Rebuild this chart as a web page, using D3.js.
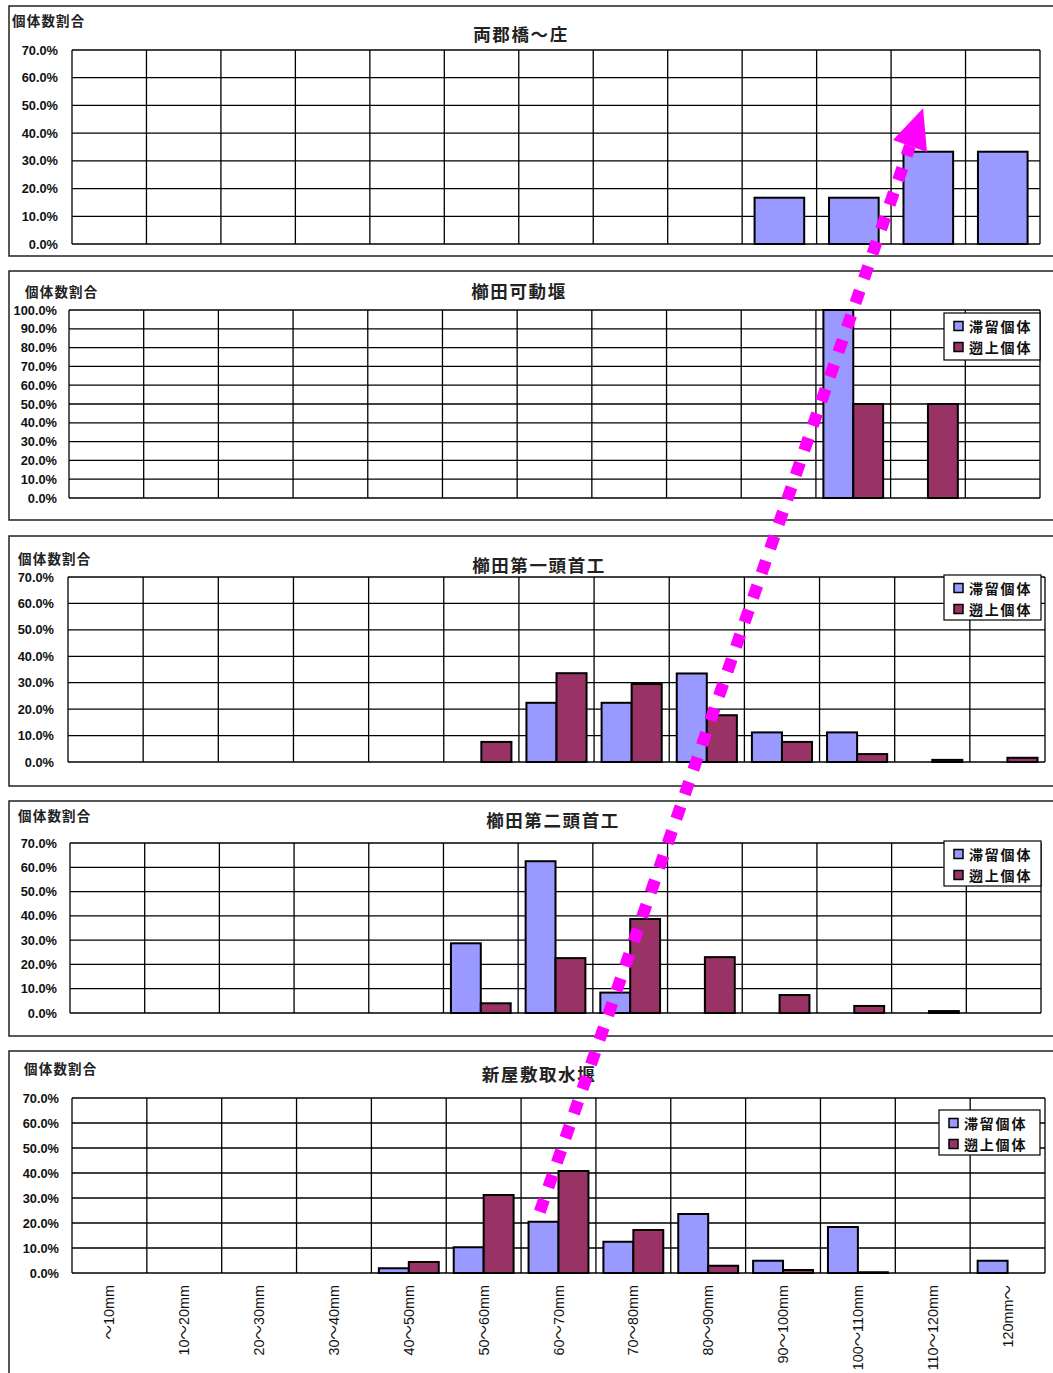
<!DOCTYPE html>
<html><head><meta charset="utf-8">
<script src="https://cdn.jsdelivr.net/npm/d3@7"></script>
<style>
body{margin:0;background:#fff;}
svg{display:block;}
</style></head>
<body>
<svg id="chart" width="1053" height="1373"></svg>
<script>
// ---------- data ----------
const categories = ["～10mm","10～20mm","20～30mm","30～40mm","40～50mm","50～60mm","60～70mm","70～80mm","80～90mm","90～100mm","100～110mm","110～120mm","120mm～"];
const seriesNames = ["滞留個体","遡上個体"];
const yTitle = "個体数割合";
const panelTitles = ["両郡橋～庄","櫛田可動堰","櫛田第一頭首工","櫛田第二頭首工","新屋敷取水堰"];
const yMaxes = [70,100,70,70,70];

const p1Stay = [0,0,0,0,0,0,0,0,0,16.7,16.7,33.3,33.3];
const p2Stay = [0,0,0,0,0,0,0,0,0,0,100,0,0];
const p2Up   = [0,0,0,0,0,0,0,0,0,0,50,50,0];
const p3Stay = [0,0,0,0,0,0,22.4,22.4,33.5,11.2,11.2,0,0];
const p3Up   = [0,0,0,0,0,7.6,33.6,29.5,17.7,7.6,3.0,0.8,1.6];
const p4Stay = [0,0,0,0,0,28.7,62.5,8.4,0,0,0,0,0];
const p4Up   = [0,0,0,0,0,4.0,22.6,38.7,23.0,7.4,2.9,0.8,0];
const p5Stay = [0,0,0,0,1.9,10.3,20.5,12.5,23.6,4.9,18.4,0,4.9];
const p5Up   = [0,0,0,0,4.4,31.2,40.8,17.2,2.9,1.2,0.3,0,0];

const panelSeries = [
  [p1Stay],
  [p2Stay, p2Up],
  [p3Stay, p3Up],
  [p4Stay, p4Up],
  [p5Stay, p5Up]
];

// ---------- layout / styles ----------
const colors = ["#9999FF","#993366"];
const layout = [
  {box:[9,6,1060,250],   plot:[72,1040,50,244],   title:[521,33],  yt:[12,20],  tickR:58, legend:null},
  {box:[9,271,1060,249], plot:[69,1040,310,498],  title:[519,290], yt:[25,291], tickR:57, legend:[944,313,96,47]},
  {box:[9,536,1060,250], plot:[68,1045,577,762],  title:[539,564], yt:[18,558], tickR:54, legend:[944,575,97,45]},
  {box:[9,801,1060,235], plot:[70,1041,843,1013], title:[553,819], yt:[18,815], tickR:57, legend:[944,841,97,45]},
  {box:[9,1051,1060,340],plot:[72,1045,1098,1273],title:[539,1073],yt:[24,1068],tickR:59, legend:[939,1110,101,45]}
];
const latin = "'Liberation Sans', Arial, 'Noto Sans CJK JP', sans-serif";
const cjk = "'Noto Sans CJK JP', 'Noto Sans CJK SC', sans-serif";

const svg = d3.select("#chart");
const scales = [];

panelSeries.forEach((series, pi) => {
  const L = layout[pi];
  const g = svg.append("g");
  // panel border
  g.append("rect").attr("x",L.box[0]).attr("y",L.box[1]).attr("width",L.box[2]).attr("height",L.box[3])
    .attr("fill","#fff").attr("stroke","#222").attr("stroke-width",1.5);

  const [x0,x1,y0,y1] = L.plot;
  const x = d3.scaleBand().domain(categories).range([x0,x1]).padding(0);
  const y = d3.scaleLinear().domain([0,yMaxes[pi]]).range([y1,y0]);
  const names = seriesNames.slice(0, series.length);
  const xs = d3.scaleBand().domain(names).range([0,x.bandwidth()]).paddingInner(0).paddingOuter(0.25);
  scales.push({x,y});

  // plot background
  g.append("rect").attr("x",x0).attr("y",y0).attr("width",x1-x0).attr("height",y1-y0).attr("fill","#fff");

  // horizontal grid
  const ticks = d3.range(0, yMaxes[pi]+0.001, 10);
  g.append("g").selectAll("line").data(ticks).join("line")
    .attr("x1",x0).attr("x2",x1).attr("y1",d=>y(d)).attr("y2",d=>y(d))
    .attr("stroke","#000").attr("stroke-width",1.3);
  // vertical grid
  const bounds = categories.map(c=>x(c)).concat([x1]);
  g.append("g").selectAll("line").data(bounds).join("line")
    .attr("x1",d=>d).attr("x2",d=>d).attr("y1",y0).attr("y2",y1)
    .attr("stroke","#000").attr("stroke-width",1.3);

  // bars
  series.forEach((vals, si) => {
    const data = categories.map((c,i)=>({c, v: vals[i]})).filter(d=>d.v>0);
    g.append("g").selectAll("rect").data(data).join("rect")
      .attr("x", d=>x(d.c)+xs(names[si]))
      .attr("width", xs.bandwidth())
      .attr("y", d=>y(d.v))
      .attr("height", d=>y(0)-y(d.v))
      .attr("fill", colors[si]).attr("stroke","#000").attr("stroke-width",2);
  });

  // y axis labels
  const ya = g.append("g").attr("transform",`translate(${L.tickR+3},0)`)
    .call(d3.axisLeft(y).tickValues(ticks).tickSize(0).tickPadding(3).tickFormat(d=>d.toFixed(1)+"%"));
  ya.select(".domain").remove();
  ya.selectAll("text").attr("font-family",latin).attr("font-size","12.8px").attr("font-weight","bold").attr("fill","#111");

  // titles
  g.append("text").attr("x",L.title[0]).attr("y",L.title[1]).attr("text-anchor","middle")
    .attr("dominant-baseline","central").attr("font-family",cjk).attr("font-weight","bold")
    .attr("font-size","17.5px").attr("letter-spacing","1.6px").attr("fill","#222").text(panelTitles[pi]);
  g.append("text").attr("x",L.yt[0]).attr("y",L.yt[1]).attr("dominant-baseline","central")
    .attr("font-family",cjk).attr("font-weight","bold").attr("font-size","13.5px")
    .attr("letter-spacing","1.2px").attr("fill","#222").text(yTitle);

  // legend
  if (L.legend) {
    const [lx,ly,lw,lh] = L.legend;
    const lg = g.append("g");
    lg.append("rect").attr("x",lx).attr("y",ly).attr("width",lw).attr("height",lh)
      .attr("fill","#fff").attr("stroke","#000").attr("stroke-width",1.2);
    names.forEach((n,si)=>{
      const cy = ly + 13 + si*21;
      lg.append("rect").attr("x",lx+10).attr("y",cy-4.5).attr("width",9).attr("height",9)
        .attr("fill",colors[si]).attr("stroke","#000").attr("stroke-width",1.5);
      lg.append("text").attr("x",lx+25).attr("y",cy).attr("dominant-baseline","central")
        .attr("font-family",cjk).attr("font-weight","bold").attr("font-size","14px")
        .attr("letter-spacing","1.8px").attr("fill","#111").text(n);
    });
  }

  // x labels on the last panel
  if (pi === panelSeries.length-1) {
    const xa = g.append("g").attr("transform",`translate(0,${y1})`)
      .call(d3.axisBottom(x).tickSize(0).tickPadding(0));
    xa.select(".domain").remove();
    xa.selectAll("text")
      .attr("transform","translate(0,12) rotate(-90)")
      .attr("text-anchor","end").attr("dy","0").attr("x",0).attr("y",0)
      .attr("dominant-baseline","central")
      .attr("font-family",latin).attr("font-size","14.4px").attr("fill","#111");
  }
});

// ---------- magenta dotted arrow annotation ----------
const s5 = scales[4], s1 = scales[0];
const start = [s5.x("60～70mm") + s5.x.bandwidth()*0.25, s5.y(24.5)];
const tip = [s1.x("110～120mm") + s1.x.bandwidth()*0.43, s1.y(49)];
const dx = tip[0]-start[0], dy = tip[1]-start[1];
const len = Math.hypot(dx,dy);
const ux = dx/len, uy = dy/len;
const headLen = 40, headHalf = 18;
const base = [tip[0]-ux*headLen, tip[1]-uy*headLen];
svg.append("line").attr("x1",start[0]).attr("y1",start[1]).attr("x2",base[0]).attr("y2",base[1])
  .attr("stroke","#FF00FF").attr("stroke-width",12).attr("stroke-dasharray","13,13");
svg.append("path")
  .attr("d", d3.line()([
    tip,
    [base[0]-uy*headHalf, base[1]+ux*headHalf],
    [base[0]+uy*headHalf, base[1]-ux*headHalf]
  ]) + "Z")
  .attr("fill","#FF00FF");
</script>
</body></html>
